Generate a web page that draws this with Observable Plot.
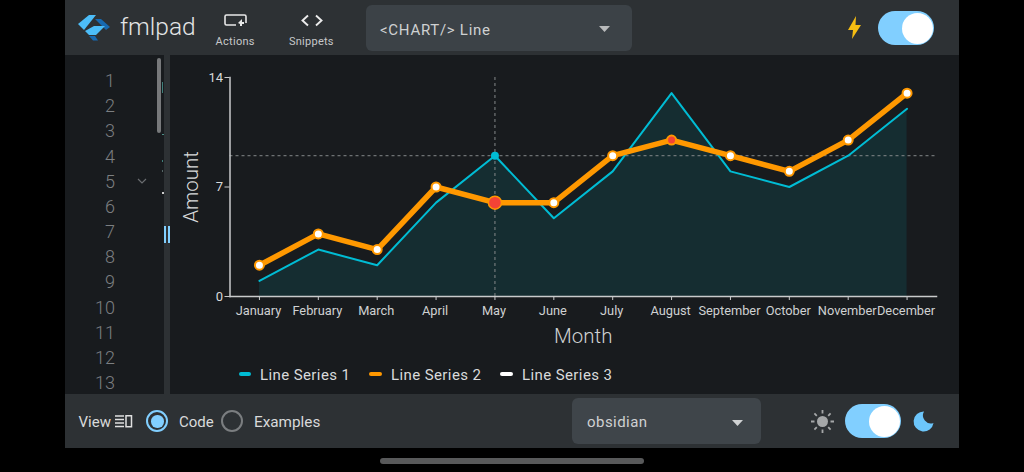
<!DOCTYPE html>
<html>
<head>
<meta charset="utf-8">
<script src="https://cdn.jsdelivr.net/npm/d3@7"></script>
<script src="https://cdn.jsdelivr.net/npm/@observablehq/plot@0.6"></script>
<style>
html,body{margin:0;padding:0;background:#000;width:1024px;height:472px;overflow:hidden;font-family:Roboto,sans-serif;color:#d9dadb}
.b{position:absolute}
.t{position:absolute;white-space:nowrap;line-height:1}
svg.i{position:absolute;overflow:visible}
#chart{position:absolute;left:170px;top:55px}
#chart svg{background:transparent;display:block}
</style>
</head>
<body>
<div class="b" style="left:65px;top:0;width:894px;height:55px;background:#2d3134"></div>
<div class="b" style="left:65px;top:55px;width:894px;height:339px;background:#181b1e"></div>
<div class="b" style="left:65px;top:394px;width:894px;height:54px;background:#2d3134"></div>
<div class="b" style="left:164px;top:55px;width:6px;height:339px;background:#2d3134"></div>
<div class="b" style="left:157px;top:58px;width:3.5px;height:75px;background:#77797b;border-radius:2px"></div>
<div class="b" style="left:163.5px;top:226px;width:2.5px;height:17px;background:#81cfff"></div>
<div class="b" style="left:167.5px;top:226px;width:2.5px;height:17px;background:#81cfff"></div>
<div class="b" style="left:162px;top:82px;width:1px;height:11px;background:#3f7f7a"></div>
<div class="b" style="left:162px;top:133.500px;width:1.5px;height:1.500px;background:#4d8f88"></div>
<div class="b" style="left:162px;top:160px;width:1px;height:2px;background:#3f7f7a"></div>
<div class="b" style="left:162px;top:170px;width:1px;height:2px;background:#566"></div>
<div class="b" style="left:162px;top:192px;width:1.500px;height:1.500px;background:#ccc"></div>
<div id="gutter"></div>
<svg class="i" style="left:137px;top:178px" width="10" height="7"><path d="M1 1L5 5L9 1" fill="none" stroke="#6a6d70" stroke-width="1.2"/></svg>

<!-- top bar -->
<svg class="i" style="left:72px;top:10px" width="45" height="34">
<path d="M6 14L17 5H24L12 20Z" fill="#4cbdf8"/>
<path d="M23 9H29L38 17L34 20Z" fill="#1769b0"/>
<path d="M13 21L22 16H33L24 25H17Z" fill="#4cbdf8"/>
<path d="M17 26H23L26 30.500H21Z" fill="#1769b0"/>
</svg>
<div class="t" style="left:120px;top:14.500px;font-size:24.500px;font-weight:300;color:#e4e5e6">fmlpad</div>
<svg class="i" style="left:224px;top:14px" width="23" height="13"><path d="M12 11H2.500Q1 11 1 9.500V2.500Q1 1 2.500 1H20.500Q22 1 22 2.500V9" fill="none" stroke="#e8e8e8" stroke-width="1.6"/><path d="M14 9L18 5V8H20V10H18V12H16V10Z" fill="#e8e8e8"/></svg>
<div class="t" style="left:215.500px;top:36px;font-size:11px;color:#c6c8c9;letter-spacing:.3px">Actions</div>
<svg class="i" style="left:301px;top:14px" width="22" height="13"><path d="M7 1.500L1.500 6.500L7 11.500M15 1.500L20.500 6.500L15 11.500" fill="none" stroke="#ececec" stroke-width="1.9"/></svg>
<div class="t" style="left:289px;top:36px;font-size:11px;color:#c6c8c9;letter-spacing:.25px">Snippets</div>
<div class="b" style="left:366px;top:5px;width:266px;height:46px;background:#3c4247;border-radius:6px"></div>
<div class="t" style="left:380px;top:22.500px;font-size:15px;color:#cfd1d2;letter-spacing:.72px">&lt;CHART/&gt; Line</div>
<svg class="i" style="left:599px;top:25.500px" width="11" height="6"><path d="M0 0H11L5.500 6Z" fill="#b8babb"/></svg>
<svg class="i" style="left:848px;top:16px" width="13" height="24"><path d="M8 0L0 14H5L4 23L13 9H7.500Z" fill="#f5bd12"/></svg>
<div class="b" style="left:878px;top:11px;width:56px;height:34px;background:#81cfff;border-radius:17px"></div>
<div class="b" style="left:902px;top:13px;width:31px;height:31px;background:#fff;border-radius:50%"></div>

<!-- chart legend -->
<div class="b" style="left:239px;top:372px;width:12px;height:4px;background:#00bcd4;border-radius:2px"></div>
<div class="t" style="left:260px;top:367.500px;font-size:15px;color:#d9dadb;letter-spacing:.4px">Line Series 1</div>
<div class="b" style="left:369px;top:372px;width:13px;height:4px;background:#ff9800;border-radius:2px"></div>
<div class="t" style="left:391px;top:367.500px;font-size:15px;color:#d9dadb;letter-spacing:.4px">Line Series 2</div>
<div class="b" style="left:500px;top:372px;width:13px;height:4px;background:#fff;border-radius:2px"></div>
<div class="t" style="left:522px;top:367.500px;font-size:15px;color:#d9dadb;letter-spacing:.4px">Line Series 3</div>

<!-- bottom bar -->
<div class="t" style="left:78.500px;top:414.500px;font-size:15px;color:#d9dadb">View</div>
<svg class="i" style="left:115px;top:415px" width="17" height="13"><path d="M0 1H9M0 4.500H9M0 8H9M0 11.500H9" stroke="#e0e0e0" stroke-width="1.500"/><rect x="11" y=".75" width="5.500" height="11" fill="none" stroke="#e0e0e0" stroke-width="1.500"/></svg>
<div class="b" style="left:146px;top:410px;width:18px;height:18px;border:2.400px solid #81cfff;border-radius:50%"></div>
<div class="b" style="left:151px;top:415px;width:12.500px;height:12.500px;background:#81cfff;border-radius:50%"></div>
<div class="t" style="left:179px;top:414.500px;font-size:15px;color:#d9dadb">Code</div>
<div class="b" style="left:221px;top:410px;width:18px;height:18px;border:2.400px solid #7b7e80;border-radius:50%"></div>
<div class="t" style="left:254px;top:414.500px;font-size:15.300px;color:#d9dadb">Examples</div>
<div class="b" style="left:572px;top:398px;width:189px;height:46px;background:#3f454a;border-radius:6px"></div>
<div class="t" style="left:587px;top:414.500px;font-size:15px;color:#cfd1d2;letter-spacing:.45px">obsidian</div>
<svg class="i" style="left:732px;top:419.500px" width="11" height="6"><path d="M0 0H11L5.500 6Z" fill="#d0d2d3"/></svg>
<svg class="i" style="left:810px;top:409px" width="25" height="25"><circle cx="12.500" cy="12.500" r="5.500" fill="#a5a7a8"/><path d="M12.500 1V4.500M12.500 20.500V24M1 12.500H4.500M20.500 12.500H24M4.400 4.400L6.800 6.800M18.200 18.200L20.600 20.600M4.400 20.600L6.800 18.200M18.200 6.800L20.600 4.400" stroke="#a5a7a8" stroke-width="1.800"/></svg>
<div class="b" style="left:845px;top:404px;width:56px;height:34px;background:#81cfff;border-radius:17px"></div>
<div class="b" style="left:869px;top:406px;width:31px;height:31px;background:#fff;border-radius:50%"></div>
<svg class="i" style="left:914px;top:411px" width="20" height="20"><path d="M10 .5A10 10 0 1 0 19.500 12A8 8 0 0 1 10 .5Z" fill="#6cc6fb"/></svg>
<div class="b" style="left:380px;top:458px;width:264px;height:5.500px;background:#58595a;border-radius:3px"></div>

<div id="chart"></div>

<script>
const lineNumbers = [1,2,3,4,5,6,7,8,9,10,11,12,13];
const months = ["January","February","March","April","May","June","July","August","September","October","November","December"];
const series1 = [1,3,2,6,9,5,8,13,8,7,9,12];
const series2 = [2,4,3,7,6,6,9,10,9,8,10,13];
const yTicks = [0,7,14];
const activeMonth = ["May"];
const activeValue = [9];
const redMonths = ["May","August"];

const gutter = document.getElementById("gutter");
lineNumbers.forEach((n,i)=>{
  const d = document.createElement("div");
  d.className = "t";
  d.textContent = n;
  d.style.cssText = `right:${1024-115}px;top:${72+i*25.17}px;font-size:18px;font-weight:300;color:#7c7f81`;
  gutter.appendChild(d);
});

const s1 = months.map((m,i)=>({m,v:series1[i]}));
const s2 = months.map((m,i)=>({m,v:series2[i]}));
const textCol = "#d9dadb", axisCol = "#c9cbcc";

const plot = Plot.plot({
  width: 789, height: 339,
  marginLeft: 59.5, marginRight: 23, marginTop: 22, marginBottom: 98,
  style: {background:"transparent", fontFamily:"Roboto, sans-serif", color:textCol},
  x: {type:"point", domain:months, padding:0.5, round:false},
  y: {domain:[0,14]},
  marks: [
    Plot.areaY(s1,{x:"m",y:"v",fill:"#00bcd4",fillOpacity:0.11}),
    Plot.ruleX(activeMonth,{stroke:"#85888a",strokeWidth:1,strokeDasharray:"3 3"}),
    Plot.ruleY(activeValue,{stroke:"#85888a",strokeWidth:1,strokeDasharray:"3 3"}),
    Plot.line(s1,{x:"m",y:"v",stroke:"#00bcd4",strokeWidth:2}),
    Plot.line(s2,{x:"m",y:"v",stroke:"#ff9800",strokeWidth:5.500}),
    Plot.frame({anchor:"left",stroke:axisCol,strokeWidth:1.500}),
    Plot.frame({anchor:"bottom",stroke:axisCol,strokeWidth:1.500}),
    Plot.axisY({ticks:yTicks,tickSize:5,tickPadding:2,fontSize:13,stroke:axisCol,fill:textCol,
      label:"Amount",labelAnchor:"center",labelArrow:"none",labelOffset:47}),
    Plot.axisX({tickSize:4,tickPadding:5,fontSize:12.800,stroke:axisCol,fill:"#cfd1d2",tickRotate:0,
      label:"Month",labelAnchor:"center",labelArrow:"none",labelOffset:46}),
    Plot.dot(s1.filter(d=>activeMonth.includes(d.m)),{x:"m",y:"v",r:4,fill:"#00bcd4"}),
    Plot.dot(s2.filter(d=>!redMonths.includes(d.m)),{x:"m",y:"v",r:4.500,fill:"#fff",stroke:"#ff9800",strokeWidth:2}),
    Plot.dot(s2.filter(d=>d.m==="May"),{x:"m",y:"v",r:6.500,fill:"#f44336",stroke:"#ff9800",strokeWidth:1.500}),
    Plot.dot(s2.filter(d=>d.m==="August"),{x:"m",y:"v",r:4.500,fill:"#f44336",stroke:"#ff9800",strokeWidth:2})
  ]
});
document.getElementById("chart").appendChild(plot);
const texts = d3.select(plot).selectAll("text");
texts.filter(function(){return ["Amount","Month"].includes(this.textContent)}).style("font-size","20.500px").style("font-weight","300");
texts.filter(function(){return months.includes(this.textContent)}).attr("dx",-1);
</script>
</body>
</html>
